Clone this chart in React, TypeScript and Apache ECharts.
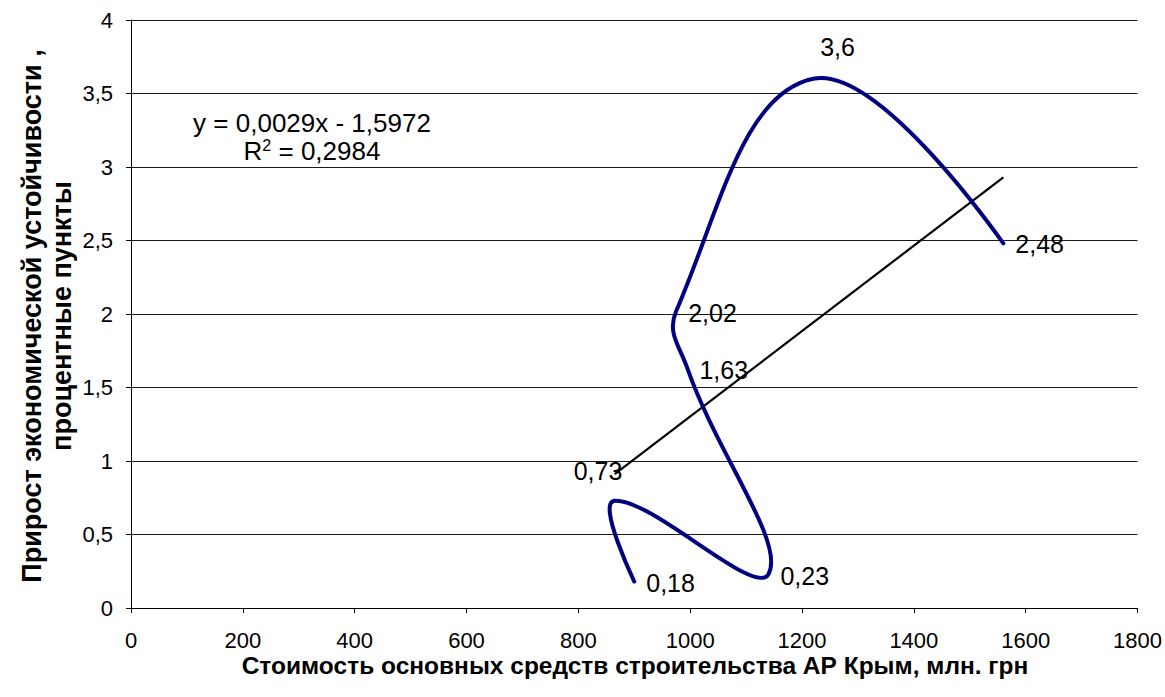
import React, { useEffect, useRef } from "react";
import * as echarts from "echarts";

// Data
const xValues = [900, 865, 1140, 995, 975, 1220, 1560];
const yValues = [0.18, 0.73, 0.23, 1.63, 2.02, 3.6, 2.48];
const trendX = [865, 1560];
const trendY = [0.91, 2.93];
const equationText = "y = 0,0029x - 1,5972";
const r2Text = "0,2984";
const xTitle = "Стоимость основных средств строительства АР Крым, млн. грн";
const yTitle1 = "Прирост экономической устойчивости ,";
const yTitle2 = "процентные пункты";

// Label placement tweaks (style only)
const labelOffsets = [[0, 1], [-53, -30], [0, 2], [0, 2], [0, 2], [-5, -32], [0, 1]];
const SMOOTH = 0.42;

const FONT = "Arial, 'Liberation Sans', sans-serif";

export default function App() {
  const ref = useRef<HTMLDivElement>(null);
  useEffect(() => {
    if (!ref.current) return;
    const chart = echarts.init(ref.current, null, { renderer: "svg" });
    const pointData = xValues.map((x, i) => [x, yValues[i]]);
    chart.setOption({
      animation: false,
      backgroundColor: "#ffffff",
      textStyle: { fontFamily: FONT },
      grid: { left: 131, right: 26, top: 20, bottom: 89, containLabel: false },
      xAxis: {
        type: "value",
        min: 0,
        max: 1800,
        interval: 200,
        axisLine: { show: true, lineStyle: { color: "#000", width: 1 } },
        axisTick: { show: true, inside: false, length: 5, lineStyle: { color: "#000" } },
        axisLabel: {
          fontSize: 22,
          color: "#000",
          margin: 21,
          fontFamily: FONT,
          formatter: (v: number) => String(v),
        },
        splitLine: { show: false },
      },
      yAxis: {
        type: "value",
        min: 0,
        max: 4,
        interval: 0.5,
        axisLine: { show: true, lineStyle: { color: "#000", width: 1 } },
        axisTick: { show: true, inside: false, length: 5, lineStyle: { color: "#000" } },
        axisLabel: {
          fontSize: 22,
          color: "#000",
          margin: 18,
          fontFamily: FONT,
          formatter: (v: number) => String(v).replace(".", ","),
        },
        splitLine: { show: true, lineStyle: { color: "#1a1a1a", width: 1 } },
      },
      graphic: [
        {
          type: "text",
          x: 635,
          y: 665,
          style: {
            text: xTitle,
            fontSize: 24.5,
            fontWeight: "bold",
            fontFamily: FONT,
            fill: "#000",
            align: "center",
            verticalAlign: "middle",
          },
        },
        {
          type: "text",
          x: 47,
          y: 316,
          rotation: Math.PI / 2,
          style: {
            text: yTitle1 + "\n" + yTitle2,
            fontSize: 27,
            fontWeight: "bold",
            fontFamily: FONT,
            fill: "#000",
            lineHeight: 30,
            align: "center",
            verticalAlign: "middle",
          },
        },
        {
          type: "text",
          x: 312,
          y: 123,
          style: {
            text: equationText,
            fontSize: 26,
            fontFamily: FONT,
            fill: "#000",
            align: "center",
            verticalAlign: "middle",
          },
        },
        {
          type: "text",
          x: 312,
          y: 151,
          style: {
            text: "{r|R}{s|2}{r| = " + r2Text + "}",
            fontFamily: FONT,
            fill: "#000",
            align: "center",
            verticalAlign: "middle",
            rich: {
              r: { fontSize: 26, fontFamily: FONT, fill: "#000", lineHeight: 28 },
              s: { fontSize: 16, fontFamily: FONT, fill: "#000", verticalAlign: "top", lineHeight: 16 },
            },
          },
        },
      ],
      series: [
        {
          type: "line",
          name: "trend",
          data: trendX.map((x, i) => [x, trendY[i]]),
          symbol: "none",
          lineStyle: { color: "#000", width: 2.2 },
          silent: true,
          z: 3,
        },
        {
          type: "custom",
          name: "curve",
          data: pointData,
          encode: { x: 0, y: 1 },
          z: 4,
          renderItem: (params: any, api: any) => {
            if (params.dataIndex !== 0) return null;
            const pts = xValues.map((x, i) => api.coord([x, yValues[i]]));
            const n = pts.length;
            const cpIn: number[][] = [];
            const cpOut: number[][] = [];
            for (let i = 0; i < n; i++) {
              const p = pts[i];
              if (i === 0 || i === n - 1) {
                cpIn[i] = p;
                cpOut[i] = p;
                continue;
              }
              const a = pts[i - 1];
              const b = pts[i + 1];
              const vx = b[0] - a[0];
              const vy = b[1] - a[1];
              const l0 = Math.hypot(p[0] - a[0], p[1] - a[1]);
              const l1 = Math.hypot(b[0] - p[0], b[1] - p[1]);
              const r = l1 / (l0 + l1);
              cpOut[i] = [p[0] + vx * SMOOTH * r, p[1] + vy * SMOOTH * r];
              cpIn[i] = [p[0] - vx * SMOOTH * (1 - r), p[1] - vy * SMOOTH * (1 - r)];
            }
            let d = `M${pts[0][0]},${pts[0][1]}`;
            for (let i = 0; i < n - 1; i++) {
              const c1 = cpOut[i];
              const c2 = cpIn[i + 1];
              const p2 = pts[i + 1];
              d += ` C${c1[0]},${c1[1]} ${c2[0]},${c2[1]} ${p2[0]},${p2[1]}`;
            }
            return {
              type: "path",
              shape: { pathData: d },
              style: { stroke: "#000080", fill: "none", lineWidth: 4, lineJoin: "round", lineCap: "round" },
            };
          },
        },
        {
          type: "scatter",
          name: "labels",
          symbolSize: 0,
          z: 5,
          itemStyle: { opacity: 1 },
          data: pointData.map((v, i) => ({
            value: v,
            label: { offset: labelOffsets[i] },
          })),
          label: {
            show: true,
            position: "right",
            distance: 12,
            fontSize: 25,
            fontFamily: FONT,
            color: "#000",
            opacity: 1,
            formatter: (p: any) => String(p.value[1]).replace(".", ","),
          },
        },
      ],
    });
    return () => chart.dispose();
  }, []);
  return (
    <div
      ref={ref}
      style={{ position: "fixed", left: 0, top: 0, width: 1165, height: 697, background: "#fff" }}
    />
  );
}
